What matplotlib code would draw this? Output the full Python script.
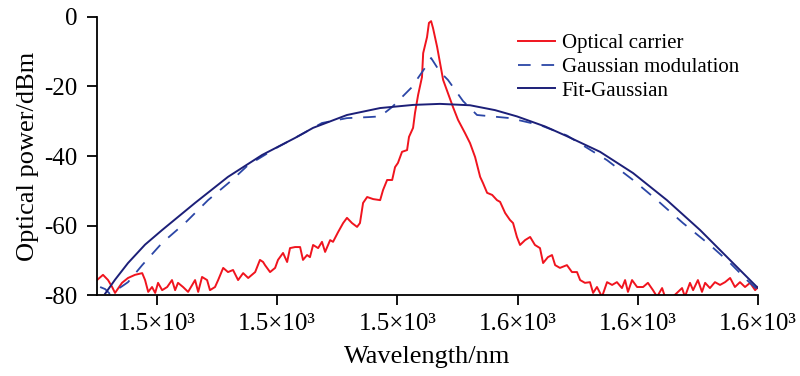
import matplotlib
matplotlib.use("Agg")
import matplotlib.pyplot as plt

plt.rcParams["font.family"] = ["Liberation Serif", "DejaVu Serif"]
plt.rcParams["axes.unicode_minus"] = False

# Optical carrier (red, noisy)
carrier_x = [
    1532.50, 1532.75, 1532.96, 1533.13, 1533.25, 1533.54, 1533.79, 1534.08, 1534.38, 1534.50,
    1534.63, 1534.79, 1534.92, 1535.04, 1535.21, 1535.42, 1535.62, 1535.75, 1535.87, 1536.08,
    1536.29, 1536.58, 1536.71, 1536.87, 1537.08, 1537.20, 1537.41, 1537.54, 1537.75, 1537.95,
    1538.16, 1538.37, 1538.58, 1538.79, 1539.08, 1539.28, 1539.41, 1539.49, 1539.70, 1539.91,
    1540.03, 1540.24, 1540.41, 1540.53, 1540.74, 1540.95, 1541.07, 1541.24, 1541.36, 1541.49,
    1541.70, 1541.86, 1541.99, 1542.20, 1542.32, 1542.53, 1542.74, 1542.90, 1543.11, 1543.32,
    1543.44, 1543.57, 1543.74, 1543.99, 1544.28, 1544.40, 1544.57, 1544.78, 1544.90, 1545.02,
    1545.19, 1545.40, 1545.48, 1545.65, 1545.73, 1545.86, 1546.02, 1546.07, 1546.23, 1546.31,
    1546.40, 1546.48, 1546.65, 1546.77, 1546.90, 1547.10, 1547.31, 1547.52, 1547.81, 1548.02,
    1548.23, 1548.44, 1548.56, 1548.73, 1548.94, 1549.14, 1549.27, 1549.48, 1549.68, 1549.81,
    1549.97, 1550.10, 1550.31, 1550.52, 1550.72, 1550.93, 1551.06, 1551.26, 1551.43, 1551.56,
    1551.76, 1552.05, 1552.26, 1552.47, 1552.60, 1552.80, 1553.01, 1553.14, 1553.30, 1553.51,
    1553.72, 1553.93, 1554.13, 1554.34, 1554.47, 1554.59, 1554.76, 1554.97, 1555.22, 1555.42,
    1555.63, 1555.80, 1556.01, 1556.13, 1556.46, 1556.84, 1556.96, 1557.17, 1557.30, 1557.50,
    1557.67, 1557.80, 1558.00, 1558.21, 1558.42, 1558.63, 1558.84, 1559.04, 1559.25, 1559.46,
    1559.67, 1559.88, 1560.00,
]
carrier_y = [
    -75.7, -74.2, -75.7, -77.7, -79.4, -76.5, -75.1, -74.2, -73.7, -75.7,
    -79.1, -77.7, -79.4, -76.5, -78.6, -77.7, -75.7, -78.6, -76.5, -77.7,
    -79.1, -75.7, -79.1, -74.8, -75.7, -78.6, -77.7, -75.7, -72.2, -73.4,
    -72.8, -75.7, -73.7, -75.1, -73.4, -69.9, -70.5, -71.4, -73.4, -72.2,
    -69.9, -67.9, -70.5, -66.5, -66.2, -66.2, -69.9, -68.5, -69.1, -65.6,
    -66.5, -64.7, -67.6, -64.2, -64.7, -61.9, -59.3, -57.8, -59.3, -60.4,
    -59.3, -53.5, -51.8, -52.4, -52.7, -49.8, -46.9, -46.9, -43.2, -42.0,
    -38.8, -38.3, -34.5, -31.9, -27.6, -22.4, -17.3, -10.4, -5.8, -1.7,
    -1.2, -3.2, -8.6, -13.2, -18.1, -21.9, -25.9, -29.6, -33.4, -36.3,
    -40.3, -46.0, -47.8, -50.6, -51.2, -52.7, -53.2, -56.4, -58.4, -59.3,
    -63.3, -65.6, -64.2, -63.3, -65.6, -66.5, -70.8, -69.1, -68.5, -71.4,
    -72.2, -71.4, -73.4, -73.4, -75.7, -76.5, -76.3, -79.4, -77.7, -80.5,
    -76.3, -77.1, -76.3, -78.0, -75.7, -79.1, -75.7, -77.7, -77.7, -76.5,
    -78.6, -80.5, -78.0, -80.5, -80.5, -78.0, -80.5, -76.5, -78.6, -75.7,
    -79.1, -76.5, -78.0, -76.3, -77.1, -76.3, -75.1, -77.7, -76.3, -77.7,
    -76.5, -78.6, -77.7,
]

# Gaussian modulation (dashed)
gauss_x = [
    1532.63, 1532.84, 1533.04, 1533.54, 1533.79, 1534.38, 1535.21, 1536.16, 1537.12, 1538.12,
    1538.79, 1540.03, 1540.95, 1541.86, 1542.90, 1543.82, 1544.28, 1544.78, 1545.57, 1546.23,
    1546.40, 1546.77, 1547.10, 1547.73, 1548.31, 1549.68, 1550.93, 1552.05, 1553.72, 1554.80,
    1555.80, 1556.88, 1558.00, 1558.84, 1559.54, 1560.00,
]
gauss_y = [
    -77.7, -78.3, -79.7, -77.5, -76.3, -71.4, -65.0, -59.3, -52.7, -46.9,
    -42.6, -37.4, -34.0, -30.5, -29.1, -28.8, -28.6, -25.9, -20.4, -13.8,
    -11.8, -15.8, -18.1, -24.2, -28.2, -29.1, -31.1, -34.1, -41.2, -46.9,
    -52.7, -59.3, -65.6, -70.8, -75.7, -78.6,
]

# Fit-Gaussian (solid)
fit_x = [
    1532.84, 1533.25, 1533.79, 1534.50, 1535.21, 1536.58, 1537.95, 1539.37, 1540.74, 1541.49,
    1542.90, 1544.28, 1545.65, 1546.77, 1548.02, 1549.06, 1549.97, 1551.14, 1552.05, 1553.43,
    1554.80, 1556.21, 1557.59, 1558.96, 1560.00,
]
fit_y = [
    -79.6, -75.6, -70.8, -65.5, -61.3, -53.5, -46.0, -39.7, -34.8, -31.9,
    -28.2, -26.2, -25.3, -25.0, -25.4, -26.8, -28.6, -31.5, -34.3, -38.8,
    -44.9, -52.7, -61.3, -70.8, -78.0,
]

x_ticks = [1535, 1540, 1545, 1550, 1555, 1560]
x_ticklabels = ["1.5×10³", "1.5×10³", "1.5×10³", "1.6×10³", "1.6×10³", "1.6×10³"]
y_ticks = [-80, -60, -40, -20, 0]

fig = plt.figure(figsize=(8, 3.76), dpi=100)
ax = fig.add_axes([0.12125, 0.2154, 0.82625, 0.7394])

ax.plot(carrier_x, carrier_y, color="#f0141e", lw=1.4, label="Optical carrier")
ax.plot(gauss_x, gauss_y, color="#2b46a6", lw=1.3, dashes=(7, 6), label="Gaussian modulation")
ax.plot(fit_x, fit_y, color="#1c1f78", lw=1.4, label="Fit-Gaussian")

ax.set_xlim(1532.5, 1560)
ax.set_ylim(-80, 0)
ax.set_xticks(x_ticks)
ax.set_xticklabels(x_ticklabels)
ax.set_yticks(y_ticks)
ax.tick_params(axis="both", direction="out", length=7, width=1.3, labelsize=18, color="black")
ax.tick_params(axis="x", pad=6)
ax.tick_params(axis="y", pad=7)

for side in ("top", "right"):
    ax.spines[side].set_visible(False)
for side in ("left", "bottom"):
    ax.spines[side].set_linewidth(1.3)

ax.set_xlabel("Wavelength/nm", fontsize=19, labelpad=8)
ax.set_ylabel("Optical power/dBm", fontsize=19, labelpad=4)

ax.legend(loc="upper right", bbox_to_anchor=(0.99, 0.985), frameon=False, fontsize=15,
          handlelength=1.8, handletextpad=0.3, labelspacing=0.2, borderaxespad=0.2)

fig.savefig("out.png", dpi=100, facecolor="white")
